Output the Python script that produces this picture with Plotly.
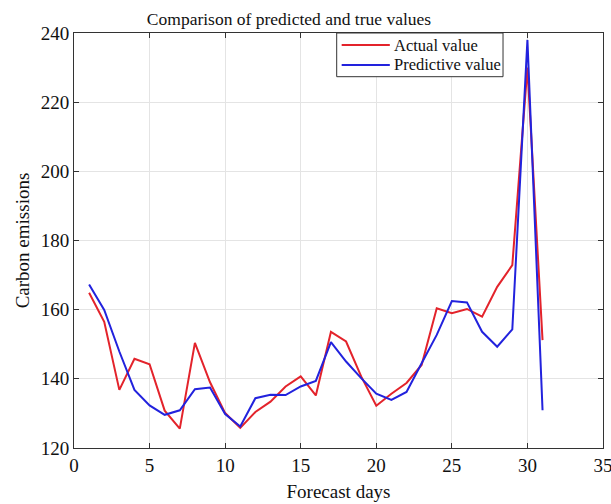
import plotly.graph_objects as go

days = list(range(1, 32))
actual = [164.9, 156.5, 136.8, 145.8, 144.2, 130.8, 125.6, 150.4, 139.0, 130.1,
          125.8, 130.4, 133.4, 137.8, 140.7, 135.2, 153.6, 150.8, 140.7, 132.2,
          135.7, 138.8, 144.0, 160.4, 159.0, 160.2, 158.0, 166.6, 172.9, 230.0,
          151.2]
predicted = [167.3, 159.9, 147.9, 136.8, 132.3, 129.6, 130.9, 137.0, 137.5, 129.8,
             126.2, 134.4, 135.4, 135.3, 137.8, 139.4, 150.6, 145.0, 140.2, 135.7,
             133.9, 136.2, 144.5, 152.7, 162.5, 162.1, 153.6, 149.3, 154.3, 238.0,
             130.9]
x_ticks = [0, 5, 10, 15, 20, 25, 30, 35]
y_ticks = [120, 140, 160, 180, 200, 220, 240]
series_names = ["Actual value", "Predictive value"]
series_colors = ["#e3232b", "#2222dd"]

FONT = "Liberation Serif"
TXT = "#111111"

fig = go.Figure()
for name, vals, col in zip(series_names, [actual, predicted], series_colors):
    fig.add_trace(go.Scatter(x=days, y=vals, mode="lines", name=name,
                             line=dict(color=col, width=2), showlegend=False))

axis_common = dict(showline=True, linecolor="#333333", linewidth=1, mirror="ticks",
                   ticks="inside", ticklen=5, tickcolor="#333333",
                   showgrid=True, gridcolor="#e4e4e4", gridwidth=1, zeroline=False,
                   ticklabeloverflow="allow", automargin=False,
                   tickfont=dict(family=FONT, size=19, color=TXT))

# manual legend box (MATLAB-style compact legend)
lx0, lx1, ly0, ly1 = 0.4966, 0.811, 0.8947, 1.0
fig.add_shape(type="rect", xref="paper", yref="paper", x0=lx0, x1=lx1, y0=ly0, y1=ly1,
              line=dict(color="#333333", width=1), fillcolor="white", layer="above")
for i, (name, col) in enumerate(zip(series_names, series_colors)):
    yy = 0.971 - i * 0.048
    fig.add_shape(type="line", xref="paper", yref="paper", x0=0.506, x1=0.597,
                  y0=yy, y1=yy, line=dict(color=col, width=2), layer="above")
    fig.add_annotation(xref="paper", yref="paper", x=0.601, y=yy, text=name,
                       showarrow=False, xanchor="left", yanchor="middle",
                       font=dict(family=FONT, size=16.5, color=TXT))

fig.update_layout(
    width=611, height=504,
    margin=dict(l=74, r=8, t=33, b=56, autoexpand=False),
    paper_bgcolor="white", plot_bgcolor="white",
    font=dict(family=FONT, color=TXT),
    title=dict(text="Comparison of predicted and true values", x=0.473, xanchor="center",
               y=0.962, yanchor="middle",
               font=dict(family=FONT, size=17.5, color=TXT)),
    xaxis=dict(range=[0, 35], tickvals=x_ticks,
               title=dict(text="Forecast days", standoff=9,
                          font=dict(family=FONT, size=19, color=TXT)),
               **axis_common),
    yaxis=dict(range=[120, 240], tickvals=y_ticks,
               title=dict(text="Carbon emissions", standoff=6,
                          font=dict(family=FONT, size=19, color=TXT)),
               **axis_common),
    showlegend=False,
)

fig.write_html("out.html")
